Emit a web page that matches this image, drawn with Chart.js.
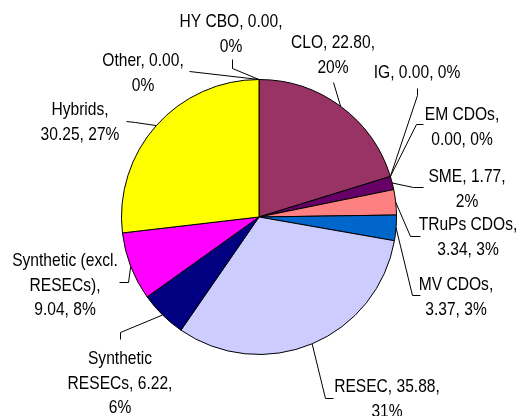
<!DOCTYPE html>
<html>
<head>
<meta charset="utf-8">
<title>Pie</title>
<script src="https://cdn.jsdelivr.net/npm/chart.js@4/dist/chart.umd.min.js"></script>
<style>
  html, body { margin: 0; padding: 0; background: #fff; }
  canvas { display: block; }
</style>
</head>
<body>
<canvas id="grafico" width="517" height="416"></canvas>
<script>
// Datos del gráfico
const categorias = ['HY CBO', 'CLO', 'IG', 'EM CDOs', 'SME', 'TRuPs CDOs', 'MV CDOs',
  'RESEC', 'Synthetic RESECs', 'Synthetic (excl. RESECs)', 'Hybrids', 'Other'];
const valores = [0.00, 22.80, 0.00, 0.00, 1.77, 3.34, 3.37, 35.88, 6.22, 9.04, 30.25, 0.00];
const porcentajes = ['0%', '20%', '0%', '0%', '2%', '3%', '3%', '31%', '6%', '8%', '27%', '0%'];

// Colores de cada porción
const colores = ['#993366', '#993366', '#660066', '#660066', '#660066', '#FF8080', '#0066CC',
  '#CCCCFF', '#000080', '#FF00FF', '#FFFF00', '#FFFF00'];

// Texto de las etiquetas, partido en líneas como en el original
const lineasEtiqueta = [
  ['HY CBO, 0.00,', '0%'],
  ['CLO, 22.80,', '20%'],
  ['IG, 0.00, 0%'],
  ['EM CDOs,', '0.00, 0%'],
  ['SME, 1.77,', '2%'],
  ['TRuPs CDOs,', '3.34, 3%'],
  ['MV CDOs,', '3.37, 3%'],
  ['RESEC, 35.88,', '31%'],
  ['Synthetic', 'RESECs, 6.22,', '6%'],
  ['Synthetic (excl.', 'RESECs),', '9.04, 8%'],
  ['Hybrids,', '30.25, 27%'],
  ['Other, 0.00,', '0%']
];

// Posición de cada etiqueta (centro x, centro de la primera línea y)
// y los puntos de la línea guía del lado de la etiqueta
const posEtiqueta = [
  { x: 231, y: 22, guia: [[232, 59], [232, 68]] },
  { x: 333, y: 43, guia: [[333, 82]] },
  { x: 417, y: 73, guia: [[417, 88], [417, 95]] },
  { x: 462, y: 115, guia: [[423, 124], [416, 124]] },
  { x: 467, y: 177, guia: [[423, 187], [413, 187]] },
  { x: 468, y: 225, guia: [[420, 236], [410, 236]] },
  { x: 456, y: 285, guia: [[420, 295], [412, 295]] },
  { x: 387, y: 387, guia: [[333, 398], [325, 398]] },
  { x: 120, y: 359, guia: [[120, 339], [120, 332]] },
  { x: 65, y: 261, guia: [[119, 282], [128, 282]] },
  { x: 80, y: 110, guia: [[126, 121], [135, 122]] },
  { x: 143, y: 61, guia: [[189, 71]] }
];

// No hay Arial Narrow: se usa Liberation Sans comprimida en horizontal
const FUENTE = '19px "Liberation Sans", Arial, sans-serif';
const ESCALA_X = 0.82;
const ALTO_LINEA = 24.5;

// Plugin para dibujar etiquetas con líneas guía
const etiquetasPlugin = {
  id: 'etiquetas',
  afterDatasetsDraw(chart) {
    const ctx = chart.ctx;
    const arcos = chart.getDatasetMeta(0).data;
    ctx.save();
    ctx.strokeStyle = '#000';
    ctx.lineWidth = 1;
    ctx.fillStyle = '#000';
    ctx.font = FUENTE;
    ctx.textAlign = 'center';
    ctx.textBaseline = 'middle';

    arcos.forEach((arco, i) => {
      const p = arco.getProps(['x', 'y', 'startAngle', 'endAngle', 'outerRadius'], true);
      const medio = (p.startAngle + p.endAngle) / 2;
      const bordeX = p.x + Math.cos(medio) * p.outerRadius;
      const bordeY = p.y + Math.sin(medio) * p.outerRadius;

      const pos = posEtiqueta[i];
      ctx.beginPath();
      pos.guia.forEach((pt, k) => {
        if (k === 0) ctx.moveTo(pt[0] + 0.5, pt[1] + 0.5);
        else ctx.lineTo(pt[0] + 0.5, pt[1] + 0.5);
      });
      ctx.lineTo(bordeX, bordeY);
      ctx.stroke();

      lineasEtiqueta[i].forEach((linea, k) => {
        ctx.save();
        ctx.translate(pos.x, pos.y + k * ALTO_LINEA);
        ctx.scale(ESCALA_X, 1);
        ctx.fillText(linea, 0, 0);
        ctx.restore();
      });
    });
    ctx.restore();
  }
};

new Chart(document.getElementById('grafico'), {
  type: 'pie',
  data: {
    labels: categorias,
    datasets: [{
      data: valores,
      backgroundColor: colores,
      borderColor: '#000',
      borderWidth: 1
    }]
  },
  options: {
    responsive: false,
    animation: false,
    layout: { padding: { left: 121, top: 79, right: 120, bottom: 61 } },
    plugins: {
      legend: { display: false },
      tooltip: { enabled: false }
    }
  },
  plugins: [etiquetasPlugin]
});
</script>
</body>
</html>
